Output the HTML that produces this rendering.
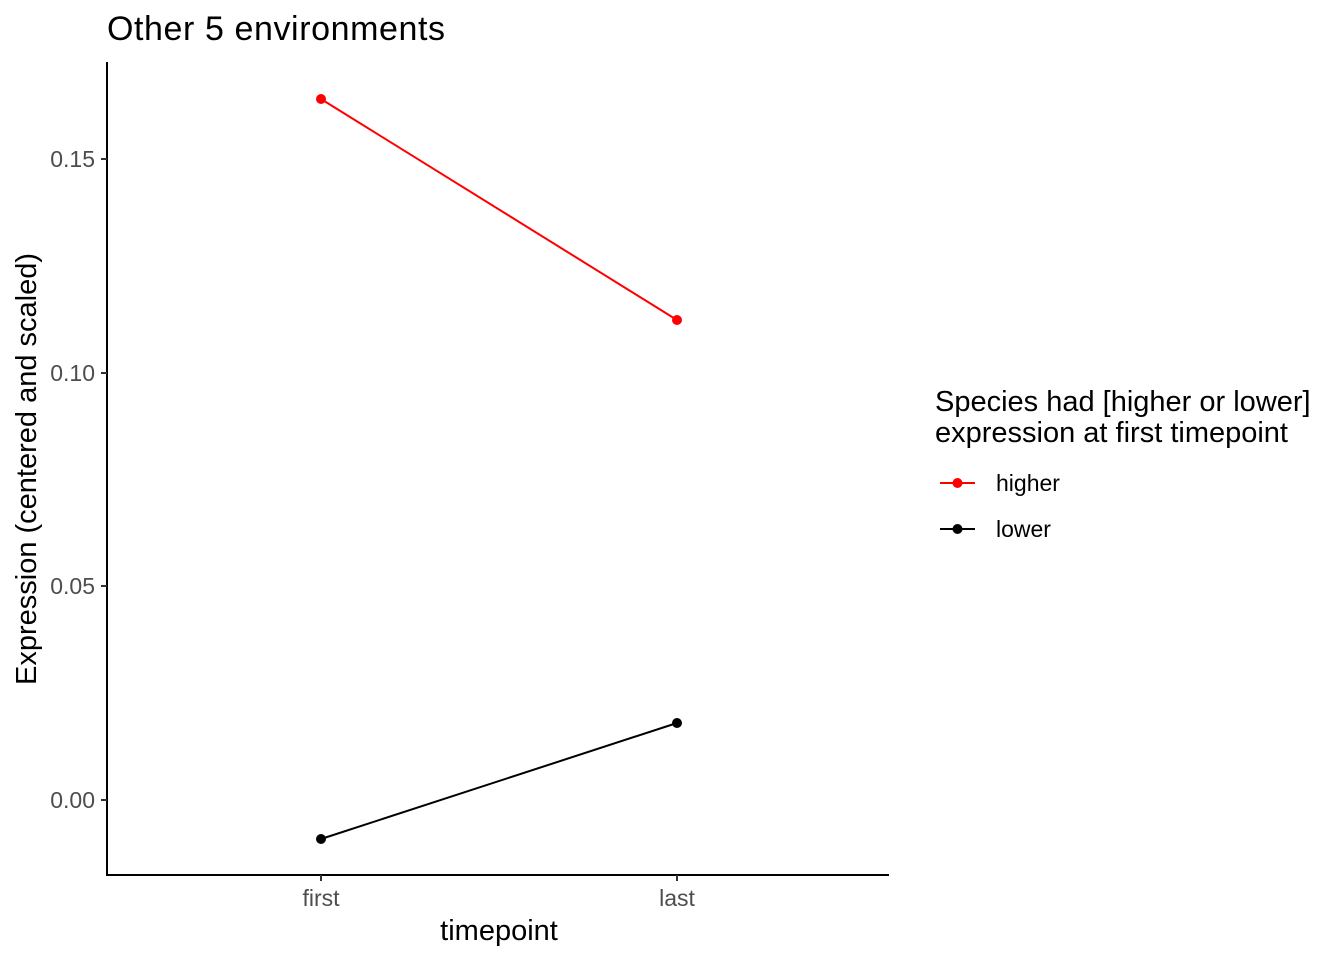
<!DOCTYPE html>
<html><head><style>body{margin:0;background:#fff}</style></head><body>
<svg width="1344" height="960" xmlns="http://www.w3.org/2000/svg" font-family="Liberation Sans, Arial, sans-serif">
<rect width="1344" height="960" fill="#fff"/>
<text x="107" y="40" style="font-size:34px" fill="#000" textLength="338">Other 5 environments</text>
<line x1="107" y1="62" x2="107" y2="875.5" stroke="#000" stroke-width="2"/>
<line x1="106" y1="875" x2="889" y2="875" stroke="#000" stroke-width="2"/>
<g stroke="#333" stroke-width="2">
<line x1="101" y1="159" x2="107" y2="159"/><line x1="101" y1="373" x2="107" y2="373"/>
<line x1="101" y1="586" x2="107" y2="586"/><line x1="101" y1="800" x2="107" y2="800"/>
<line x1="321" y1="875" x2="321" y2="881"/><line x1="677" y1="875" x2="677" y2="881"/>
</g>
<g style="font-size:23px" fill="#4d4d4d" text-anchor="end">
<text x="95" y="167">0.15</text><text x="95" y="381">0.10</text>
<text x="95" y="594">0.05</text><text x="95" y="808">0.00</text>
</g>
<g style="font-size:23px" fill="#4d4d4d" text-anchor="middle">
<text x="321" y="906">first</text><text x="677" y="906">last</text>
</g>
<text x="499" y="940" style="font-size:29px" text-anchor="middle">timepoint</text>
<text transform="translate(36,469) rotate(-90)" style="font-size:29px" text-anchor="middle">Expression (centered and scaled)</text>
<line x1="321" y1="99" x2="677" y2="320" stroke="#f00" stroke-width="2"/>
<circle cx="321" cy="99" r="5" fill="#f00"/><circle cx="677" cy="320" r="5" fill="#f00"/>
<line x1="321" y1="839" x2="677" y2="723" stroke="#000" stroke-width="2"/>
<circle cx="321" cy="839" r="5" fill="#000"/><circle cx="677" cy="723" r="5" fill="#000"/>
<text x="935" y="411" style="font-size:29px">Species had [higher or lower]</text>
<text x="935" y="442" style="font-size:29px">expression at first timepoint</text>
<line x1="940" y1="483" x2="975" y2="483" stroke="#f00" stroke-width="2"/><circle cx="957.5" cy="483" r="5" fill="#f00"/>
<text x="996" y="491" style="font-size:23px">higher</text>
<line x1="940" y1="529" x2="975" y2="529" stroke="#000" stroke-width="2"/><circle cx="957.5" cy="529" r="5" fill="#000"/>
<text x="996" y="537" style="font-size:23px">lower</text>
</svg>
</body></html>
